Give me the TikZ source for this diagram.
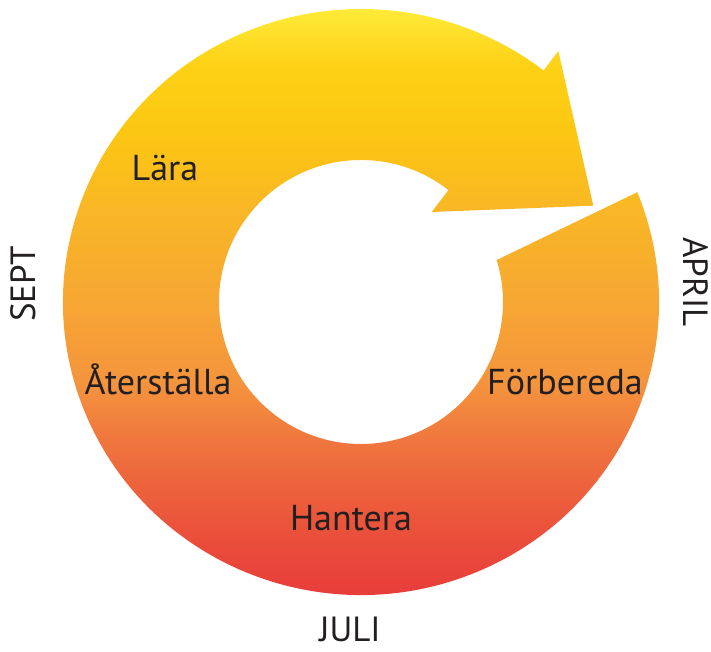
\documentclass[tikz,border=0pt]{standalone}
\usepackage{fontspec}
\setmainfont{PT Sans}
\usetikzlibrary{calc}

\definecolor{txtgray}{HTML}{231F20}
\definecolor{shA}{HTML}{E83C3A}
\definecolor{shB}{HTML}{EA4E3B}
\definecolor{shC}{HTML}{ED653C}
\definecolor{shD}{HTML}{F07A3E}
\definecolor{shE}{HTML}{F4933D}
\definecolor{shF}{HTML}{F7A733}
\definecolor{shG}{HTML}{F9B725}
\definecolor{shH}{HTML}{FCC612}
\definecolor{shI}{HTML}{FDD116}
\definecolor{shJ}{HTML}{FFEC3A}
\pgfdeclareverticalshading{cycleshade}{100bp}{color(0bp)=(shA); color(25bp)=(shA);
  color(30bp)=(shB); color(35bp)=(shC); color(39bp)=(shD); color(43bp)=(shE);
  color(50bp)=(shF); color(58bp)=(shG); color(64bp)=(shH); color(70bp)=(shI);
  color(75bp)=(shJ); color(100bp)=(shJ)}

\tikzset{
  phase/.style={font=\fontsize{36}{36}\selectfont, text=txtgray, inner sep=0pt, anchor=base},
  month/.style={font=\fontsize{35}{35}\selectfont, text=txtgray, inner sep=0pt, anchor=base}
}

\begin{document}
\begin{tikzpicture}[x=1pt,y=1pt]
			%%%%% START %%%%%
			\useasboundingbox (-361,-350) rectangle (350,302);

			% ring with arrow head
			\begin{scope}
			\clip (22:298 and 293) arc[start angle=22, end angle=-307.8, x radius=298, y radius=293]
			      -- (197.3,251) -- (232.3,96.3) -- (70.7,90)
			      -- (52:142) arc[start angle=52, end angle=377.2, radius=142] -- cycle;
			\shade[shading=cycleshade] (-300,-296) rectangle (300,296);
			\end{scope}

			% phases
			\node[phase] (lara) at (-196,121) {Lära};
			\node[phase] (aterstalla) at (-203,-93) {Återställa};
			\node[phase] (forbereda) at (204,-93) {Förbereda};
			\node[phase] (hantera) at (-10,-228) {Hantera};

			% months
			\node[month] (juli) at (-11,-339) {JULI};
			\node[month, rotate=90] (sept) at (-325,18) {SEPT};
			\node[month, rotate=-90] (april) at (322,20) {APRIL};
			%%%%% END %%%%%
\end{tikzpicture}
\end{document}
